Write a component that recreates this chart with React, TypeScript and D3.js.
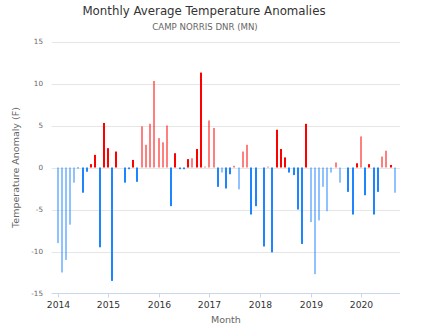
import React from "react";
import * as d3 from "d3";

// Monthly anomalies (F), Jan 2014 .. Sep 2020; null = no data
const startYear = 2014;
const anomalies2014 = [-9.0, -12.5, -11.0, -6.8, -1.8, -0.1, -3.0, -0.5, 0.4, 1.5, -9.5, 5.3];
const anomalies2015 = [2.3, -13.5, 1.9, null, -1.8, -0.2, 0.9, -1.7, 4.9, 2.7, 5.2, 10.3];
const anomalies2016 = [3.5, 3.0, 5.0, -4.6, 1.7, -0.2, -0.2, 1.0, 1.1, 2.2, 11.3, 0.1];
const anomalies2017 = [5.6, 4.7, -2.3, -0.6, -2.5, -0.8, 0.2, -2.6, 1.9, 2.7, -5.6, -4.6];
const anomalies2018 = [null, -9.4, 0.1, -10.1, 4.5, 2.2, 1.2, -0.6, -0.9, -5.0, -9.1, 5.2];
const anomalies2019 = [-6.5, -12.7, -6.3, -2.3, -5.2, -0.6, 0.6, -1.8, null, -2.9, -5.6, 0.5];
const anomalies2020 = [3.7, -3.3, 0.4, -5.6, -2.9, 1.3, 2.0, 0.3, -3.0];

// 1 = incomplete month (drawn lighter)
const partial2014 = [1, 1, 1, 1, 1, 0, 0, 0, 0, 0, 0, 0];
const partial2015 = [0, 0, 0, 0, 0, 0, 0, 0, 1, 1, 1, 1];
const partial2016 = [1, 1, 1, 0, 0, 0, 0, 0, 1, 0, 0, 1];
const partial2017 = [1, 1, 0, 1, 0, 0, 1, 1, 1, 1, 0, 0];
const partial2018 = [0, 0, 1, 0, 0, 0, 0, 0, 0, 0, 0, 0];
const partial2019 = [1, 1, 1, 1, 1, 1, 1, 1, 0, 0, 0, 0];
const partial2020 = [1, 0, 0, 0, 0, 1, 1, 0, 1];

const yTicks = [-15, -10, -5, 0, 5, 10, 15];
const xTickYears = [2014, 2015, 2016, 2017, 2018, 2019, 2020];

const title = "Monthly Average Temperature Anomalies";
const subtitle = "CAMP NORRIS DNR (MN)";
const yTitle = "Temperature Anomaly (F)";
const xTitle = "Month";

const W = 424;
const H = 328;
const plotL = 51.7;
const plotR = 400;
const plotT = 41.5;
const plotB = 293.5;
const font = "'DejaVu Sans', Verdana, sans-serif";

export default function App() {
  const yearsVals = [anomalies2014, anomalies2015, anomalies2016, anomalies2017, anomalies2018, anomalies2019, anomalies2020];
  const yearsFlags = [partial2014, partial2015, partial2016, partial2017, partial2018, partial2019, partial2020];
  const data: { date: Date; v: number; light: boolean }[] = [];
  yearsVals.forEach((arr, yi) => {
    arr.forEach((v, m) => {
      if (v === null) return;
      data.push({ date: new Date(Date.UTC(startYear + yi, m, 1)), v: v as number, light: yearsFlags[yi][m] === 1 });
    });
  });

  const x = d3
    .scaleUtc()
    .domain([new Date(Date.UTC(2013, 10, 20)), new Date(Date.UTC(2020, 9, 8))])
    .range([plotL, plotR]);
  const y = d3.scaleLinear().domain([-15, 15]).range([plotB, plotT]);
  const y0 = y(0);

  return (
    <svg width={W} height={H} style={{ position: "absolute", left: 0, top: 0, background: "#fff" }} fontFamily={font}>
      <rect x={0} y={0} width={W} height={H} fill="#fff" />
      <text x={204} y={15} textAnchor="middle" fontSize={11.8} fill="#333">{title}</text>
      <text x={205} y={30} textAnchor="middle" fontSize={8.6} fill="#666">{subtitle}</text>

      {yTicks.filter((t) => t !== -15).map((t) => (
        <line key={"g" + t} x1={plotL} x2={plotR} y1={Math.round(y(t)) + 0.5} y2={Math.round(y(t)) + 0.5} stroke="#e6e6e6" strokeWidth={1} />
      ))}
      {yTicks.map((t) => (
        <text key={"yl" + t} x={43} y={y(t) + 2.5} textAnchor="end" fontSize={7.2} fill="#666">{t}</text>
      ))}
      <text transform={`translate(19,${(plotT + plotB) / 2}) rotate(-90)`} textAnchor="middle" fontSize={9.5} fill="#666">{yTitle}</text>

      <line x1={plotL} x2={plotR} y1={plotB} y2={plotB} stroke="#ccd6eb" strokeWidth={1} />
      {xTickYears.map((yr) => {
        const px = Math.round(x(new Date(Date.UTC(yr, 0, 1)))) + 0.5;
        return (
          <g key={"xt" + yr}>
            <line x1={px} x2={px} y1={plotB} y2={plotB + 4} stroke="#ccd6eb" strokeWidth={1} />
            <text x={px} y={308.3} textAnchor="middle" fontSize={9.2} fill="#333">{yr}</text>
          </g>
        );
      })}
      <text x={(plotL + plotR) / 2} y={322.7} textAnchor="middle" fontSize={9.5} fill="#666">{xTitle}</text>

      {data.map((d, i) => {
        const cx = x(d.date);
        const yv = y(d.v);
        const top = Math.min(yv, y0);
        const h = Math.max(Math.abs(yv - y0), 0.6);
        const color = d.v >= 0 ? "#ff0000" : "#1f85ff";
        return (
          <rect key={i} x={Math.round(cx - 1)} y={top} width={2} height={h} fill={color} fillOpacity={d.light ? 0.5 : 1} />
        );
      })}
    </svg>
  );
}
